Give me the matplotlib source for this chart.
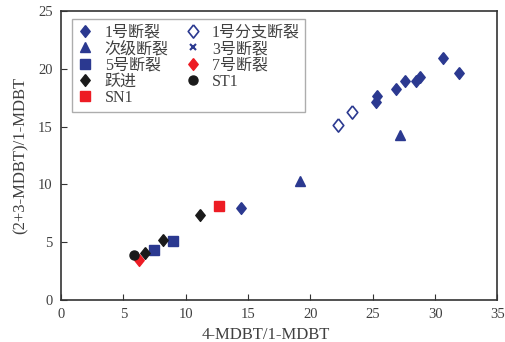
import numpy as np
import matplotlib
matplotlib.use("Agg")
import matplotlib.pyplot as plt

plt.rcParams["font.family"] = ["Liberation Serif", "Noto Sans CJK SC"]

BLUE = "#2B3990"
RED = "#ED1C24"
BLACK = "#1a1a1a"
TXT = "#404040"

# data
f1_x = [14.4, 25.3, 25.35, 26.9, 27.6, 28.5, 28.8, 30.6, 31.9]
f1_y = [7.93, 17.16, 17.67, 18.25, 18.97, 18.97, 19.25, 20.9, 19.66]
f1b_x = [22.2, 23.3]
f1b_y = [15.1, 16.3]
sec_x = [19.2, 27.2]
sec_y = [10.27, 14.3]
f3_x, f3_y = [], []
f5_x = [7.42, 8.96]
f5_y = [4.31, 5.14]
f7_x = [6.22]
f7_y = [3.45]
yj_x = [6.76, 8.17, 11.15]
yj_y = [4.08, 5.23, 7.36]
st1_x = [5.85]
st1_y = [3.85]
sn1_x = [12.69]
sn1_y = [8.13]

DIAM = [(0, 1), (0.8, 0), (0, -1), (-0.8, 0), (0, 1)]

fig = plt.figure(figsize=(5.05, 3.42), dpi=100)
ax = fig.add_axes([0.1208, 0.1228, 0.985 - 0.1208, 0.9678 - 0.1228])

h = {}
h["1号断裂"], = ax.plot(f1_x, f1_y, ls="none", marker=DIAM, ms=8.5, color=BLUE)
h["1号分支断裂"], = ax.plot(f1b_x, f1b_y, ls="none", marker=DIAM, ms=9.5,
                          mfc="white", mec=BLUE, mew=1.2)
h["次级断裂"], = ax.plot(sec_x, sec_y, ls="none", marker="^", ms=7.5, color=BLUE)
h["3号断裂"], = ax.plot(f3_x, f3_y, ls="none", marker="x", ms=5, mew=1.5, color=BLUE)
h["5号断裂"], = ax.plot(f5_x, f5_y, ls="none", marker="s", ms=6.5, color=BLUE)
h["7号断裂"], = ax.plot(f7_x, f7_y, ls="none", marker=DIAM, ms=8.5, color=RED)
h["跃进"], = ax.plot(yj_x, yj_y, ls="none", marker=DIAM, ms=8.5, color=BLACK)
h["ST1"], = ax.plot(st1_x, st1_y, ls="none", marker="o", ms=6.5, color=BLACK)
h["SN1"], = ax.plot(sn1_x, sn1_y, ls="none", marker="s", ms=6.5, color=RED)

ax.set_xlim(0, 35)
ax.set_ylim(0, 25)
ax.set_xticks(np.arange(0, 36, 5))
ax.set_yticks(np.arange(0, 26, 5))
ax.tick_params(direction="in", length=4, labelsize=10.5, labelcolor=TXT,
               color="#333333", top=False, right=False, pad=6)
for s in ax.spines.values():
    s.set_color("#333333")
    s.set_linewidth(1.2)

ax.set_xlabel("4-MDBT/1-MDBT", fontsize=12, color=TXT, labelpad=1)
ax.xaxis.set_label_coords(0.47, -0.095)
ax.set_ylabel("(2+3-MDBT)/1-MDBT", fontsize=12, color=TXT, labelpad=7)

order = ["1号断裂", "次级断裂", "5号断裂", "跃进", "SN1",
         "1号分支断裂", "3号断裂", "7号断裂", "ST1"]
leg = ax.legend([h[k] for k in order], order, ncol=2, loc="upper left",
                bbox_to_anchor=(0.025, 0.972), borderaxespad=0,
                fontsize=11.5, frameon=True,
                fancybox=False, edgecolor="#999999", handlelength=1.0,
                handletextpad=0.7, columnspacing=1.0, labelspacing=0.02,
                borderpad=0.35, labelcolor=TXT, markerscale=1.0)
leg.get_frame().set_linewidth(1.0)

fig.savefig("out.png", dpi=100)
